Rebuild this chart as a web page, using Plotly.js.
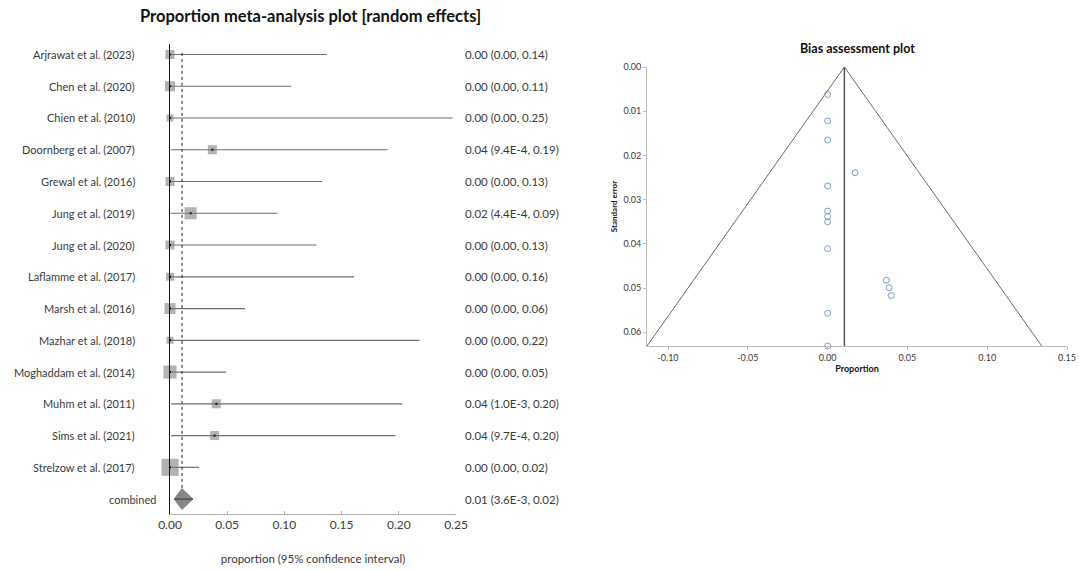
<!DOCTYPE html>
<html>
<head>
<meta charset="utf-8">
<script src="https://cdn.plot.ly/plotly-3.0.1.min.js"></script>
<style>html,body{margin:0;padding:0;background:#fff;}#chart{width:1079px;height:570px;}</style>
</head>
<body>
<div id="chart"></div>
<script>
// ---------- Forest plot data ----------
const studies = [
  "Arjrawat et al. (2023)", "Chen et al. (2020)", "Chien et al. (2010)", "Doornberg et al. (2007)",
  "Grewal et al. (2016)", "Jung et al. (2019)", "Jung et al. (2020)", "Laflamme et al. (2017)",
  "Marsh et al. (2016)", "Mazhar et al. (2018)", "Moghaddam et al. (2014)", "Muhm et al. (2011)",
  "Sims et al. (2021)", "Strelzow et al. (2017)"
];
const estimate = [0, 0, 0, 0.037, 0, 0.018, 0, 0, 0, 0, 0, 0.0405, 0.039, 0];
const lowerCI  = [0, 0, 0, 0.00094, 0, 0.00044, 0, 0, 0, 0, 0, 0.0010, 0.00097, 0];
const upperCI  = [0.137, 0.106, 0.247, 0.190, 0.133, 0.094, 0.128, 0.161, 0.0656, 0.218, 0.049, 0.203, 0.197, 0.0254];
const weightBox = [9, 10, 7, 9, 9, 12, 9, 8, 11, 7, 13, 9, 9, 17];
const ciLabels = [
  "0.00 (0.00, 0.14)", "0.00 (0.00, 0.11)", "0.00 (0.00, 0.25)", "0.04 (9.4E-4, 0.19)",
  "0.00 (0.00, 0.13)", "0.02 (4.4E-4, 0.09)", "0.00 (0.00, 0.13)", "0.00 (0.00, 0.16)",
  "0.00 (0.00, 0.06)", "0.00 (0.00, 0.22)", "0.00 (0.00, 0.05)", "0.04 (1.0E-3, 0.20)",
  "0.04 (9.7E-4, 0.20)", "0.00 (0.00, 0.02)"
];
const pooledLabel = "combined";
const pooledEst = 0.0105;
const pooledLo = 0.0036;
const pooledHi = 0.020;
const pooledCI = "0.01 (3.6E-3, 0.02)";
const forestTicks = [0, 0.05, 0.10, 0.15, 0.20, 0.25];

// ---------- Funnel (bias) plot data ----------
const funnelProp = [0, 0, 0, 0, 0, 0, 0, 0, 0, 0, 0.0172, 0.0368, 0.0385, 0.0399];
const funnelSE   = [0.0062, 0.0122, 0.0165, 0.0269, 0.0326, 0.0338, 0.0350, 0.0411, 0.0557, 0.0631, 0.0239, 0.0482, 0.0499, 0.0517];
const funnelSEMax = 0.0631;
const funnelXTicks = [-0.10, -0.05, 0.00, 0.05, 0.10, 0.15];
const funnelXTickText = ["-0.10", "-0.05", "0.00", "0.05", "0.10", "0.15"];
const funnelYTicks = [0, 0.01, 0.02, 0.03, 0.04, 0.05, 0.06];

// ---------- build traces ----------
const FONT = "Lato, 'Open Sans', sans-serif";
const TXT = "#3a3a3a";
const nRows = studies.length;
const rows = studies.map((_, i) => i);
const pooledRow = nRows;

// CI lines
const ciX = [], ciY = [];
rows.forEach(i => { ciX.push(lowerCI[i], upperCI[i], null); ciY.push(i, i, null); });

const traces = [];
traces.push({
  x: ciX, y: ciY, xaxis: 'x', yaxis: 'y', type: 'scatter', mode: 'lines',
  line: {color: '#6e6e6e', width: 1.2}, hoverinfo: 'skip', cliponaxis: false
});
// weight squares
traces.push({
  x: estimate, y: rows, xaxis: 'x', yaxis: 'y', type: 'scatter', mode: 'markers',
  marker: {symbol: 'square', size: weightBox, color: 'rgba(125,125,125,0.85)', line: {width: 0}},
  cliponaxis: false, text: studies
});
// centre dots
traces.push({
  x: estimate, y: rows, xaxis: 'x', yaxis: 'y', type: 'scatter', mode: 'markers',
  marker: {symbol: 'square', size: 2, color: '#111'}, cliponaxis: false, hoverinfo: 'skip'
});
// pooled estimate dotted line
const dh = 0.33;
traces.push({
  x: [pooledEst, pooledEst], y: [-0.05, pooledRow - dh], xaxis: 'x', yaxis: 'y',
  type: 'scatter', mode: 'lines', line: {color: '#222', width: 1, dash: 'dot'}, hoverinfo: 'skip'
});
// diamond
traces.push({
  x: [pooledLo, pooledEst, pooledHi, pooledEst, pooledLo],
  y: [pooledRow, pooledRow - dh, pooledRow, pooledRow + dh, pooledRow],
  xaxis: 'x', yaxis: 'y', type: 'scatter', mode: 'lines', fill: 'toself',
  fillcolor: '#878787', line: {color: '#878787', width: 1}, cliponaxis: false
});
traces.push({
  x: [pooledLo, pooledHi], y: [pooledRow, pooledRow], xaxis: 'x', yaxis: 'y',
  type: 'scatter', mode: 'lines', line: {color: '#333', width: 1}, hoverinfo: 'skip'
});

// funnel lines
const fLeft = pooledEst - 1.96 * funnelSEMax;
const fRight = pooledEst + 1.96 * funnelSEMax;
traces.push({
  x: [fLeft, pooledEst, fRight], y: [funnelSEMax, 0, funnelSEMax], xaxis: 'x2', yaxis: 'y2',
  type: 'scatter', mode: 'lines', line: {color: '#6a6a6a', width: 1}, cliponaxis: false, hoverinfo: 'skip'
});
traces.push({
  x: [pooledEst, pooledEst], y: [0, funnelSEMax], xaxis: 'x2', yaxis: 'y2',
  type: 'scatter', mode: 'lines', line: {color: '#555', width: 1.5}, hoverinfo: 'skip'
});
traces.push({
  x: funnelProp, y: funnelSE, xaxis: 'x2', yaxis: 'y2', type: 'scatter', mode: 'markers',
  marker: {symbol: 'circle-open', size: 6, color: '#7d9cc4', line: {width: 1, color: '#7d9cc4'}},
  cliponaxis: false
});

// ---------- annotations ----------
const W = 1079, H = 570;
const annotations = [];
rows.forEach(i => {
  annotations.push({x: 137 / W, xref: 'paper', y: i, yref: 'y', text: studies[i], showarrow: false,
    xanchor: 'right', yanchor: 'middle', font: {family: FONT, size: 11, color: TXT}});
  annotations.push({x: 463 / W, xref: 'paper', y: i, yref: 'y', text: ciLabels[i], showarrow: false,
    xanchor: 'left', yanchor: 'middle', font: {family: FONT, size: 11.5, color: TXT}});
});
annotations.push({x: 158 / W, xref: 'paper', y: pooledRow, yref: 'y', text: pooledLabel, showarrow: false,
  xanchor: 'right', yanchor: 'middle', font: {family: FONT, size: 11, color: TXT}});
annotations.push({x: 463 / W, xref: 'paper', y: pooledRow, yref: 'y', text: pooledCI, showarrow: false,
  xanchor: 'left', yanchor: 'middle', font: {family: FONT, size: 11.5, color: TXT}});
// titles
annotations.push({x: 310 / W, xref: 'paper', y: 1 - 16 / H, yref: 'paper', showarrow: false,
  text: "<b>Proportion meta-analysis plot [random effects]</b>", xanchor: 'center', yanchor: 'middle',
  font: {family: FONT, size: 16.5, color: '#111'}});
annotations.push({x: 857 / W, xref: 'paper', y: 1 - 48 / H, yref: 'paper', showarrow: false,
  text: "<b>Bias assessment plot</b>", xanchor: 'center', yanchor: 'middle',
  font: {family: FONT, size: 12.5, color: '#111'}});

const layout = {
  width: W, height: H,
  margin: {l: 0, r: 0, t: 0, b: 0},
  paper_bgcolor: '#fff', plot_bgcolor: 'rgba(0,0,0,0)',
  showlegend: false,
  xaxis: {
    domain: [170 / W, 456 / W], range: [0, 0.25], tickvals: forestTicks, tickformat: '.2f',
    ticks: 'inside', ticklen: 3, tickcolor: '#b0b0b0', showline: true, linecolor: '#b0b0b0', linewidth: 1,
    showgrid: false, zeroline: false, anchor: 'y',
    tickfont: {family: FONT, size: 12, color: TXT},
    title: {text: 'proportion (95% confidence interval)', font: {family: FONT, size: 11.5, color: TXT}, standoff: 23}
  },
  yaxis: {
    domain: [1 - 514 / H, 1 - 44 / H], range: [14.47, -0.33], showticklabels: false, ticks: '',
    showline: true, linecolor: '#111', linewidth: 1.5, showgrid: false, zeroline: false, anchor: 'x'
  },
  xaxis2: {
    domain: [647 / W, 1067 / W], range: [fLeft, 0.15], tickvals: funnelXTicks, ticktext: funnelXTickText,
    ticks: 'outside', ticklen: 3, tickcolor: '#bdbdbd', showline: true, linecolor: '#bdbdbd', linewidth: 1,
    showgrid: false, zeroline: false, anchor: 'y2',
    tickfont: {family: FONT, size: 9, color: TXT},
    title: {text: '<b>Proportion</b>', font: {family: FONT, size: 9, color: '#111'}, standoff: 3}
  },
  yaxis2: {
    domain: [1 - 346 / H, 1 - 67 / H], range: [funnelSEMax, 0], tickvals: funnelYTicks, tickformat: '.2f',
    ticks: 'outside', ticklen: 3, tickcolor: '#bdbdbd', showline: true, linecolor: '#bdbdbd', linewidth: 1,
    showgrid: false, zeroline: false, anchor: 'x2',
    tickfont: {family: FONT, size: 9, color: TXT},
    title: {text: '<b>Standard error</b>', font: {family: FONT, size: 8, color: '#111'}, standoff: 4}
  },
  annotations: annotations
};

Plotly.newPlot('chart', traces, layout, {displayModeBar: false, staticPlot: true});
</script>
</body>
</html>
